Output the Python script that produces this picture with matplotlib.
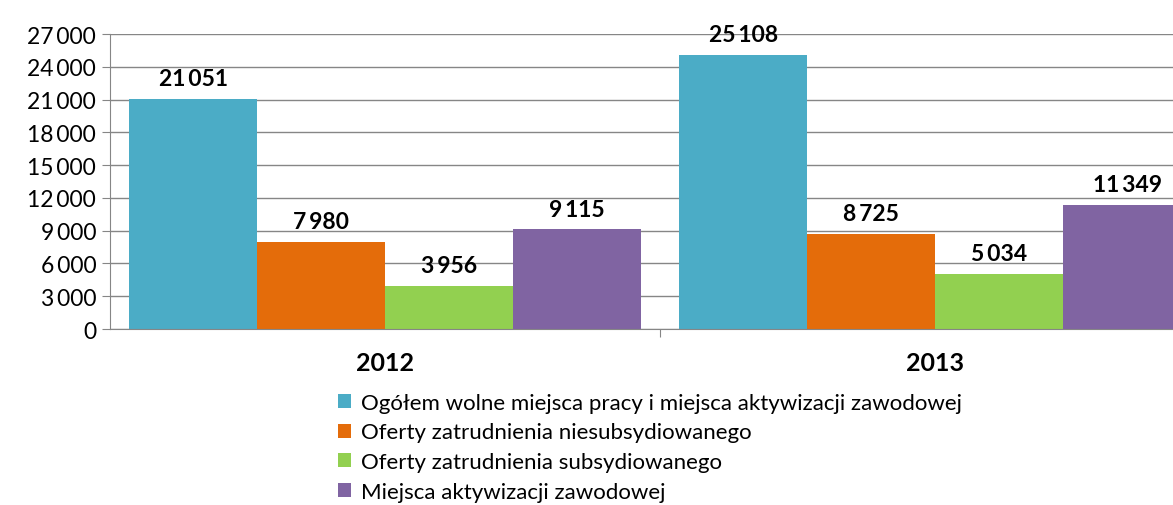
import numpy as np
import matplotlib.pyplot as plt

years = ["2012", "2013"]
series_names = [
    "Ogółem wolne miejsca pracy i miejsca aktywizacji zawodowej",
    "Oferty zatrudnienia niesubsydiowanego",
    "Oferty zatrudnienia subsydiowanego",
    "Miejsca aktywizacji zawodowej",
]
ogolem = [21051, 25108]
niesubsydiowane = [7980, 8725]
subsydiowane = [3956, 5034]
aktywizacja = [9115, 11349]
colors = ["#4BACC6", "#E46C0A", "#92D050", "#8064A2"]
yticks = np.arange(0, 27001, 3000)

plt.rcParams['font.family'] = ['Lato', 'DejaVu Sans']


def fmt(v):
    # thin space as thousands separator, like the original
    return "{:,}".format(int(v)).replace(",", "\u2009")


fig = plt.figure(figsize=(11.73, 5.06), dpi=100)
ax = fig.add_axes([0.0938, 0.3478, 0.9378, 0.583])

x = np.arange(len(years))
width = 0.2327
all_series = [ogolem, niesubsydiowane, subsydiowane, aktywizacja]
for i, (vals, name, c) in enumerate(zip(all_series, series_names, colors)):
    pos = x + (i - 1.5) * width
    bars = ax.bar(pos, vals, width, color=c, label=name, zorder=2)
    for b, v in zip(bars, vals):
        ax.annotate(fmt(v), (b.get_x() + b.get_width() / 2, v), xytext=(0, 7),
                    textcoords="offset points", ha="center", va="bottom",
                    fontsize=16.5, fontweight="bold")

ax.set_xlim(-0.5, 1.5)
ax.set_ylim(0, 27000)
ax.set_yticks(yticks)
ax.set_yticklabels([fmt(t) for t in yticks], fontsize=16.5)
ax.yaxis.grid(True, color="#868686", linewidth=1, zorder=0)
ax.set_xticks([0.5])
ax.set_xticklabels([""])
ax.tick_params(axis="x", length=6, color="#868686", direction="out")
ax.tick_params(axis="y", length=6, color="#868686", direction="out", pad=4)
for yi, yr in zip(x, years):
    ax.text(yi, -0.075, yr, transform=ax.get_xaxis_transform(), ha="center", va="top",
            fontsize=18, fontweight="bold")
for s in ["top", "right"]:
    ax.spines[s].set_visible(False)
ax.spines["left"].set_color("#868686")
ax.spines["bottom"].set_color("#868686")

handles, labels = ax.get_legend_handles_labels()
fig.legend(handles, labels, loc="upper left", bbox_to_anchor=(0.288, 0.222),
           frameon=False, fontsize=16, handlelength=0.6, handleheight=0.6,
           handletextpad=0.45, labelspacing=0.44, borderpad=0, borderaxespad=0)

fig.savefig("out.png", dpi=100)
